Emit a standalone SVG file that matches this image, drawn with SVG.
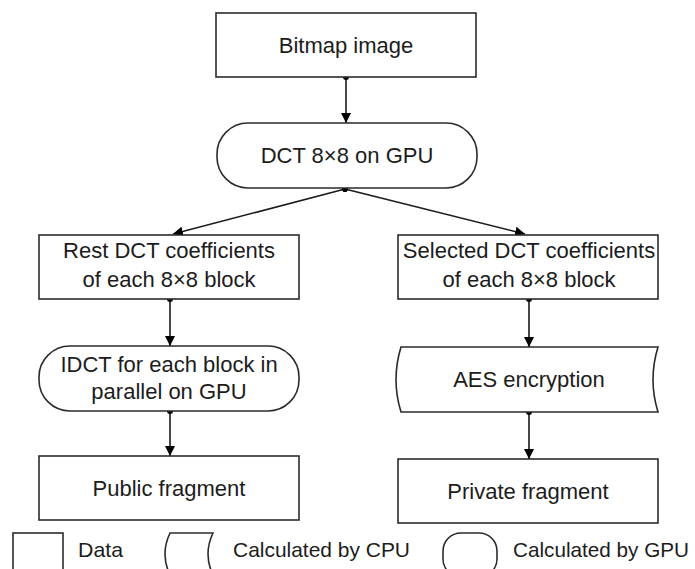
<svg xmlns="http://www.w3.org/2000/svg" width="695" height="569" viewBox="0 0 695 569">
<defs>
<style>
.box{fill:#fff;stroke:#2b2b2b;stroke-width:1.6}
.t{font-family:"Liberation Sans",Arial,sans-serif;font-size:22px;fill:#1c1c1c;text-anchor:middle}
.lt{font-family:"Liberation Sans",Arial,sans-serif;font-size:21px;fill:#1c1c1c}
.c{fill:none;stroke:#1a1a1a;stroke-width:1.6;marker-end:url(#ah);marker-start:url(#dot)}
</style>
<marker id="ah" viewBox="0 0 10 10" refX="10" refY="5" markerWidth="10" markerHeight="10" markerUnits="userSpaceOnUse" orient="auto">
<path d="M0,0 L10,5 L0,10 Z" fill="#000"/>
</marker>
<marker id="dot" viewBox="0 0 6 6" refX="3" refY="3" markerWidth="6" markerHeight="6" markerUnits="userSpaceOnUse" orient="auto">
<circle cx="3" cy="3" r="3" fill="#000"/>
</marker>
</defs>
<rect width="695" height="569" fill="#fff"/>
<g id="connectors">
<line class="c" x1="346" y1="77" x2="346" y2="123"/>
<line class="c" x1="345" y1="189" x2="173" y2="234"/>
<line class="c" x1="345" y1="189" x2="525" y2="234"/>
<line class="c" x1="170" y1="299" x2="170" y2="346"/>
<line class="c" x1="529" y1="299" x2="529" y2="347"/>
<line class="c" x1="170" y1="411" x2="170" y2="456"/>
<line class="c" x1="529" y1="412" x2="529" y2="459"/>
</g>
<g id="bitmap">
<rect class="box" x="216" y="13" width="260" height="64"/>
<text class="t" x="346" y="53">Bitmap image</text>
</g>
<g id="dct">
<rect class="box" x="217" y="123" width="260" height="65" rx="31" ry="31"/>
<text class="t" x="347" y="163">DCT 8×8 on GPU</text>
</g>
<g id="rest">
<rect class="box" x="39" y="235" width="260" height="64"/>
<text class="t" x="169" y="258">Rest DCT coefficients</text>
<text class="t" x="169" y="287">of each 8×8 block</text>
</g>
<g id="selected">
<rect class="box" x="398" y="235" width="260" height="64"/>
<text class="t" x="529" y="258">Selected DCT coefficients</text>
<text class="t" x="529" y="287">of each 8×8 block</text>
</g>
<g id="idct">
<rect class="box" x="39" y="346" width="260" height="65" rx="31" ry="31"/>
<text class="t" x="169" y="372">IDCT for each block in</text>
<text class="t" x="169" y="399">parallel on GPU</text>
</g>
<g id="aes">
<path class="box" d="M401,347 L658,347 Q648,379.5 658,412 L401,412 Q391,379.5 401,347 Z"/>
<text class="t" x="529" y="387">AES encryption</text>
</g>
<g id="public">
<rect class="box" x="39" y="456" width="260" height="64"/>
<text class="t" x="169" y="496">Public fragment</text>
</g>
<g id="private">
<rect class="box" x="398" y="459" width="260" height="64"/>
<text class="t" x="528" y="499">Private fragment</text>
</g>
<g id="legend">
<rect class="box" x="13" y="533" width="50" height="42"/>
<text class="lt" x="78" y="557" textLength="45" lengthAdjust="spacingAndGlyphs">Data</text>
<path class="box" d="M170,533 L213,533 Q203,554 213,575 L170,575 Q160,554 170,533 Z"/>
<text class="lt" x="233" y="557" textLength="177" lengthAdjust="spacingAndGlyphs">Calculated by CPU</text>
<rect class="box" x="443" y="533" width="54" height="44" rx="18" ry="18"/>
<text class="lt" x="513" y="557" textLength="176" lengthAdjust="spacingAndGlyphs">Calculated by GPU</text>
</g>
</svg>
